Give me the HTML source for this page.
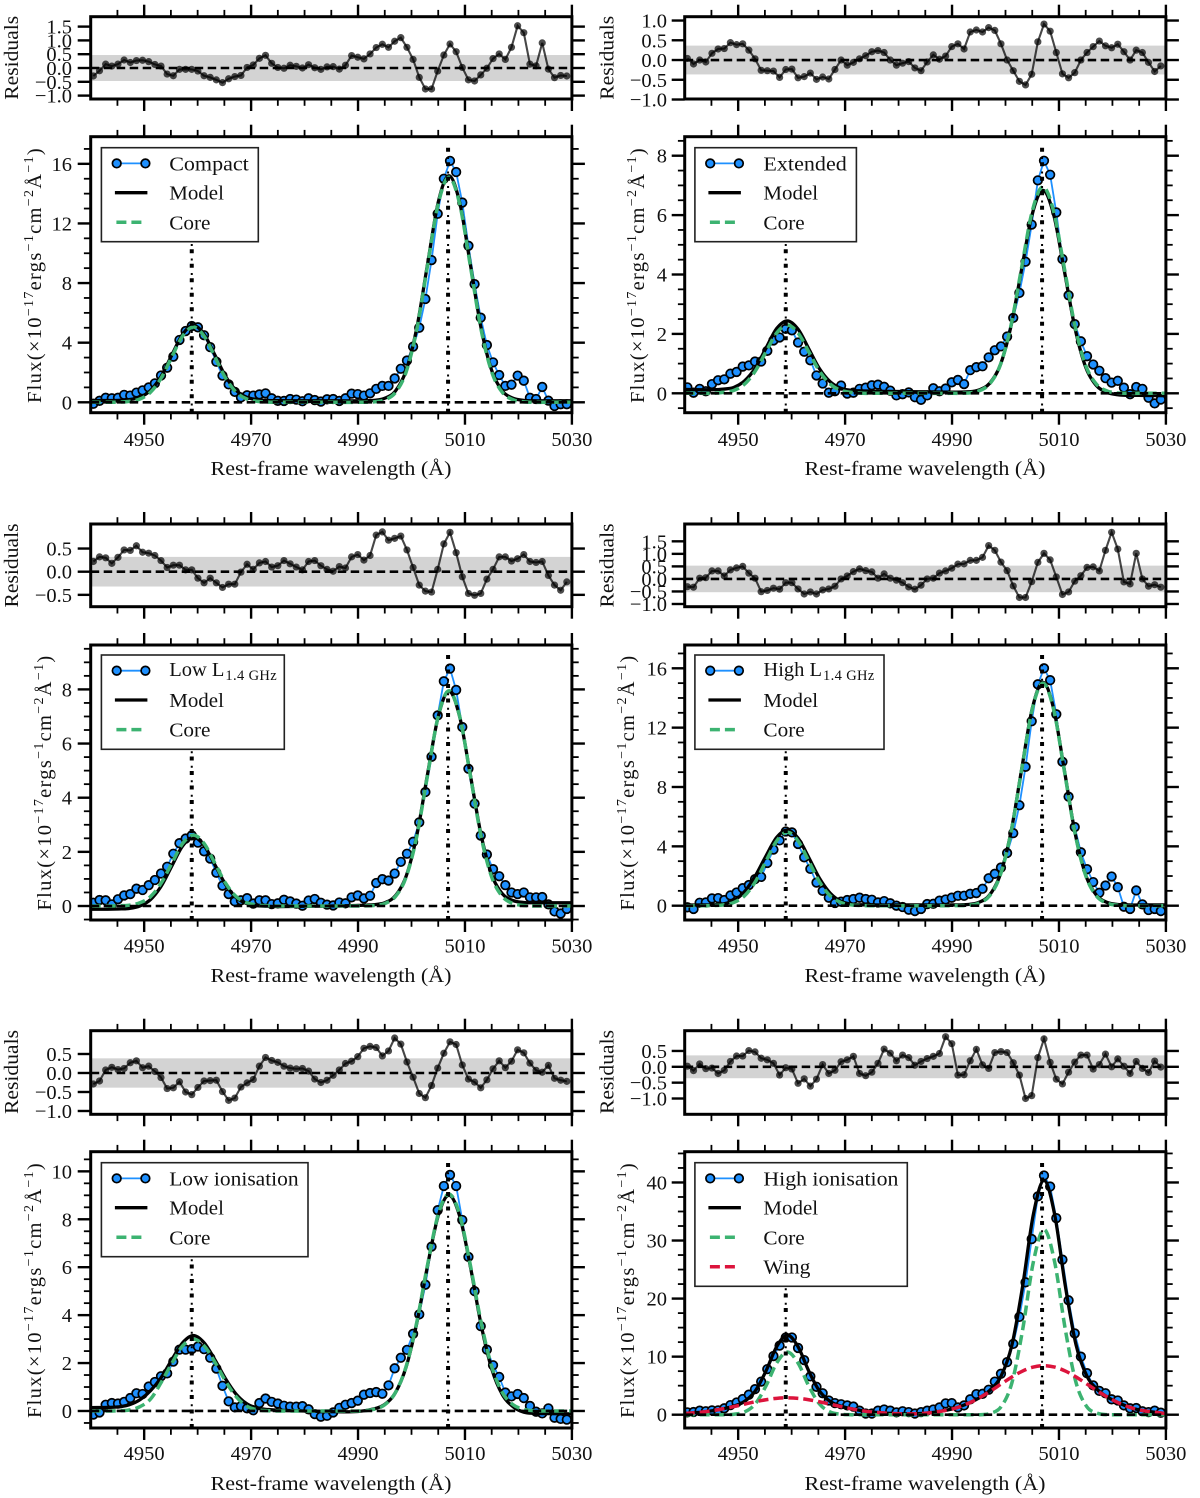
<!DOCTYPE html>
<html lang="en">
<head>
<meta charset="utf-8">
<title>[O III] line profiles with model fits and residuals</title>
<style>
html,body{margin:0;padding:0;background:#fff;}
svg{display:block;}
text{font-family:"Liberation Serif","DejaVu Serif",serif;font-size:20.5px;fill:#111;}
.sup{font-size:14px;}
.sub{font-size:14.5px;letter-spacing:.35px;}
.flux{letter-spacing:1.3px;}
.model{stroke:#000;stroke-width:3.3;fill:none;}
.core{stroke:#3cb371;stroke-width:3.5;stroke-dasharray:10 5;fill:none;}
.wing{stroke:#dc143c;stroke-width:3.5;stroke-dasharray:10 5;fill:none;}
.leg{fill:#fff;stroke:#222;stroke-width:1.6;}
.fl{stroke:#1e90ff;stroke-width:1.8;}
.dot{fill:#1e90ff;stroke:#000;stroke-width:1.7;}
</style>
</head>
<body>
<svg id="figure" xmlns="http://www.w3.org/2000/svg" width="1200" height="1498" viewBox="0 0 1200 1498">
<rect width="1200" height="1498" fill="#fff"/>

<!-- COMPACT -->
<g>
  <g id="compact-plots"></g>
  <text transform="translate(18,57.8) rotate(-90)" text-anchor="middle" textLength="84" lengthAdjust="spacingAndGlyphs">Residuals</text>
  <text class="flux" transform="translate(41,275) rotate(-90)" text-anchor="middle">Flux(×10<tspan class="sup" dy="-8">−17</tspan><tspan dy="8">ergs</tspan><tspan class="sup" dy="-8">−1</tspan><tspan dy="8">cm</tspan><tspan class="sup" dy="-8">−2</tspan><tspan dy="8">Å</tspan><tspan class="sup" dy="-8">−1</tspan><tspan dy="8">)</tspan></text>
  <text x="331" y="475" text-anchor="middle" textLength="241" lengthAdjust="spacingAndGlyphs">Rest-frame wavelength (Å)</text>
  <g transform="translate(101.4,147.7)">
    <rect class="leg" width="156.9" height="94"/>
    <line class="fl" x1="15.3" x2="44" y1="15.7" y2="15.7"/>
    <circle class="dot" cx="15.3" cy="15.7" r="4.3"/>
    <circle class="dot" cx="44" cy="15.7" r="4.3"/>
    <text x="67.8" y="22.8" textLength="79.6" lengthAdjust="spacingAndGlyphs">Compact</text>
    <line class="model" x1="13.5" x2="46" y1="45" y2="45"/>
    <text x="67.8" y="52" textLength="54.7" lengthAdjust="spacingAndGlyphs">Model</text>
    <line class="core" x1="15" x2="44" y1="74.6" y2="74.6"/>
    <text x="67.8" y="81.6" textLength="41.3" lengthAdjust="spacingAndGlyphs">Core</text>
  </g>
</g>

<!-- EXTENDED -->
<g>
  <g id="extended-plots"></g>
  <text transform="translate(613.5,57.8) rotate(-90)" text-anchor="middle" textLength="84" lengthAdjust="spacingAndGlyphs">Residuals</text>
  <text class="flux" transform="translate(644,275) rotate(-90)" text-anchor="middle">Flux(×10<tspan class="sup" dy="-8">−17</tspan><tspan dy="8">ergs</tspan><tspan class="sup" dy="-8">−1</tspan><tspan dy="8">cm</tspan><tspan class="sup" dy="-8">−2</tspan><tspan dy="8">Å</tspan><tspan class="sup" dy="-8">−1</tspan><tspan dy="8">)</tspan></text>
  <text x="925" y="475" text-anchor="middle" textLength="241" lengthAdjust="spacingAndGlyphs">Rest-frame wavelength (Å)</text>
  <g transform="translate(694.9,147.7)">
    <rect class="leg" width="161.5" height="94"/>
    <line class="fl" x1="15.3" x2="44" y1="15.7" y2="15.7"/>
    <circle class="dot" cx="15.3" cy="15.7" r="4.3"/>
    <circle class="dot" cx="44" cy="15.7" r="4.3"/>
    <text x="68.5" y="22.8" textLength="83.4" lengthAdjust="spacingAndGlyphs">Extended</text>
    <line class="model" x1="13.5" x2="46" y1="45" y2="45"/>
    <text x="68.5" y="52" textLength="54.7" lengthAdjust="spacingAndGlyphs">Model</text>
    <line class="core" x1="15" x2="44" y1="74.6" y2="74.6"/>
    <text x="68.5" y="81.6" textLength="41.3" lengthAdjust="spacingAndGlyphs">Core</text>
  </g>
</g>

<!-- LOW L -->
<g>
  <g id="lowL-plots"></g>
  <text transform="translate(18,565.5) rotate(-90)" text-anchor="middle" textLength="84" lengthAdjust="spacingAndGlyphs">Residuals</text>
  <text class="flux" transform="translate(51,782.5) rotate(-90)" text-anchor="middle">Flux(×10<tspan class="sup" dy="-8">−17</tspan><tspan dy="8">ergs</tspan><tspan class="sup" dy="-8">−1</tspan><tspan dy="8">cm</tspan><tspan class="sup" dy="-8">−2</tspan><tspan dy="8">Å</tspan><tspan class="sup" dy="-8">−1</tspan><tspan dy="8">)</tspan></text>
  <text x="331" y="982" text-anchor="middle" textLength="241" lengthAdjust="spacingAndGlyphs">Rest-frame wavelength (Å)</text>
  <g transform="translate(101.4,655)">
    <rect class="leg" width="182.9" height="94.3"/>
    <line class="fl" x1="15.3" x2="44" y1="15.7" y2="15.7"/>
    <circle class="dot" cx="15.3" cy="15.7" r="4.3"/>
    <circle class="dot" cx="44" cy="15.7" r="4.3"/>
    <text x="67.8" y="21"><tspan>Low L</tspan><tspan class="sub" dy="4" dx="1">1.4 GHz</tspan></text>
    <line class="model" x1="13.5" x2="46" y1="45" y2="45"/>
    <text x="67.8" y="52" textLength="54.7" lengthAdjust="spacingAndGlyphs">Model</text>
    <line class="core" x1="15" x2="44" y1="74.6" y2="74.6"/>
    <text x="67.8" y="81.6" textLength="41.3" lengthAdjust="spacingAndGlyphs">Core</text>
  </g>
</g>

<!-- HIGH L -->
<g>
  <g id="highL-plots"></g>
  <text transform="translate(613.5,565.5) rotate(-90)" text-anchor="middle" textLength="84" lengthAdjust="spacingAndGlyphs">Residuals</text>
  <text class="flux" transform="translate(634,782.5) rotate(-90)" text-anchor="middle">Flux(×10<tspan class="sup" dy="-8">−17</tspan><tspan dy="8">ergs</tspan><tspan class="sup" dy="-8">−1</tspan><tspan dy="8">cm</tspan><tspan class="sup" dy="-8">−2</tspan><tspan dy="8">Å</tspan><tspan class="sup" dy="-8">−1</tspan><tspan dy="8">)</tspan></text>
  <text x="925" y="982" text-anchor="middle" textLength="241" lengthAdjust="spacingAndGlyphs">Rest-frame wavelength (Å)</text>
  <g transform="translate(694.9,655)">
    <rect class="leg" width="189.1" height="94.3"/>
    <line class="fl" x1="15.3" x2="44" y1="15.7" y2="15.7"/>
    <circle class="dot" cx="15.3" cy="15.7" r="4.3"/>
    <circle class="dot" cx="44" cy="15.7" r="4.3"/>
    <text x="68.5" y="21"><tspan>High L</tspan><tspan class="sub" dy="4" dx="1">1.4 GHz</tspan></text>
    <line class="model" x1="13.5" x2="46" y1="45" y2="45"/>
    <text x="68.5" y="52" textLength="54.7" lengthAdjust="spacingAndGlyphs">Model</text>
    <line class="core" x1="15" x2="44" y1="74.6" y2="74.6"/>
    <text x="68.5" y="81.6" textLength="41.3" lengthAdjust="spacingAndGlyphs">Core</text>
  </g>
</g>

<!-- LOW IONISATION -->
<g>
  <g id="lowIon-plots"></g>
  <text transform="translate(18,1072) rotate(-90)" text-anchor="middle" textLength="84" lengthAdjust="spacingAndGlyphs">Residuals</text>
  <text class="flux" transform="translate(41,1290) rotate(-90)" text-anchor="middle">Flux(×10<tspan class="sup" dy="-8">−17</tspan><tspan dy="8">ergs</tspan><tspan class="sup" dy="-8">−1</tspan><tspan dy="8">cm</tspan><tspan class="sup" dy="-8">−2</tspan><tspan dy="8">Å</tspan><tspan class="sup" dy="-8">−1</tspan><tspan dy="8">)</tspan></text>
  <text x="331" y="1490" text-anchor="middle" textLength="241" lengthAdjust="spacingAndGlyphs">Rest-frame wavelength (Å)</text>
  <g transform="translate(101.4,1162.7)">
    <rect class="leg" width="206.6" height="94"/>
    <line class="fl" x1="15.3" x2="44" y1="15.7" y2="15.7"/>
    <circle class="dot" cx="15.3" cy="15.7" r="4.3"/>
    <circle class="dot" cx="44" cy="15.7" r="4.3"/>
    <text x="67.8" y="22.8" textLength="129.4" lengthAdjust="spacingAndGlyphs">Low ionisation</text>
    <line class="model" x1="13.5" x2="46" y1="45" y2="45"/>
    <text x="67.8" y="52" textLength="54.7" lengthAdjust="spacingAndGlyphs">Model</text>
    <line class="core" x1="15" x2="44" y1="74.6" y2="74.6"/>
    <text x="67.8" y="81.6" textLength="41.3" lengthAdjust="spacingAndGlyphs">Core</text>
  </g>
</g>

<!-- HIGH IONISATION -->
<g>
  <g id="highIon-plots"></g>
  <text transform="translate(613.5,1072) rotate(-90)" text-anchor="middle" textLength="84" lengthAdjust="spacingAndGlyphs">Residuals</text>
  <text class="flux" transform="translate(634,1290) rotate(-90)" text-anchor="middle">Flux(×10<tspan class="sup" dy="-8">−17</tspan><tspan dy="8">ergs</tspan><tspan class="sup" dy="-8">−1</tspan><tspan dy="8">cm</tspan><tspan class="sup" dy="-8">−2</tspan><tspan dy="8">Å</tspan><tspan class="sup" dy="-8">−1</tspan><tspan dy="8">)</tspan></text>
  <text x="925" y="1490" text-anchor="middle" textLength="241" lengthAdjust="spacingAndGlyphs">Rest-frame wavelength (Å)</text>
  <g transform="translate(694.9,1162.7)">
    <rect class="leg" width="212.4" height="123.6"/>
    <line class="fl" x1="15.3" x2="44" y1="15.7" y2="15.7"/>
    <circle class="dot" cx="15.3" cy="15.7" r="4.3"/>
    <circle class="dot" cx="44" cy="15.7" r="4.3"/>
    <text x="68.5" y="22.8" textLength="135" lengthAdjust="spacingAndGlyphs">High ionisation</text>
    <line class="model" x1="13.5" x2="46" y1="45" y2="45"/>
    <text x="68.5" y="52" textLength="54.7" lengthAdjust="spacingAndGlyphs">Model</text>
    <line class="core" x1="15" x2="44" y1="74.6" y2="74.6"/>
    <text x="68.5" y="81.6" textLength="41.3" lengthAdjust="spacingAndGlyphs">Core</text>
    <line class="wing" x1="15" x2="44" y1="104" y2="104"/>
    <text x="68.5" y="111" textLength="47" lengthAdjust="spacingAndGlyphs">Wing</text>
  </g>
</g>
</svg>

<script>
// ---------- shared wavelength axes (Angstrom) ----------
const wave = [4940.50,4941.65,4942.80,4943.95,4945.10,4946.25,4947.40,4948.55,4949.70,4950.85,
4952.00,4953.15,4954.30,4955.45,4956.60,4957.75,4958.90,4960.05,4961.20,4962.35,
4963.50,4964.65,4965.80,4966.95,4968.10,4969.25,4970.40,4971.55,4972.70,4973.85,
4975.00,4976.15,4977.30,4978.45,4979.60,4980.75,4981.90,4983.05,4984.20,4985.35,
4986.50,4987.65,4988.80,4989.95,4991.10,4992.25,4993.40,4994.55,4995.70,4996.85,
4998.00,4999.15,5000.30,5001.45,5002.60,5003.75,5004.90,5006.05,5007.20,5008.35,
5009.50,5010.65,5011.80,5012.95,5014.10,5015.25,5016.40,5017.55,5018.70,5019.85,
5021.00,5022.15,5023.30,5024.45,5025.60,5026.75,5027.90,5029.05];
const modelWave = [4940,4943.2,4945.2,4947.2,4949.2,4951.2,4953.2,4955.2,4957.2,4959.2,4961.2,4963.2,4965.2,4967.2,4969.2,4971.2,4973.2,4975.2,4980,4985,4990,4993,4995,4997,4999,5001,5003,5005,5007,5009,5011,5013,5015,5017,5019,5021,5023,5025,5030];
const highIonModelWave = [4940,4943.2,4945.2,4947.2,4949.2,4951.2,4953.2,4955.2,4957.2,4959.2,4961.2,4963.2,4965.2,4967.2,4969.2,4971.2,4973.2,4975.2,4980.2,4985.2,4990.2,4993.2,4995.2,4997.2,4999.2,5001.2,5003.2,5005.2,5007.2,5009.2,5011.2,5013.2,5015.2,5017.2,5019.2,5021.2,5023.2,5025.2,5030];
const lineCentres = [4958.9,5006.84];
const xMajor = [4950,4970,4990,5010,5030];
const xMinor = [4945,4955,4960,4965,4975,4980,4985,4995,5000,5005,5015,5020,5025];

// ---------- Compact ----------
const compactRes = [-.29,-.1,.14,.07,.14,.29,.2,.27,.28,.23,.13,.07,-.22,-.28,-.05,-.05,-.05,-.11,-.28,-.34,-.43,-.53,-.39,-.31,-.27,.02,.11,.35,.46,.17,.02,-.01,.1,.06,0,.12,.01,-.05,.04,.05,-.04,.1,.45,.39,.33,.51,.74,.86,.75,.97,1.1,.75,.31,-.34,-.76,-.76,-.11,.47,.87,.59,.02,-.43,-.47,-.25,-.01,.34,.51,.31,.75,1.53,1.28,.14,.08,.91,-.04,-.35,-.27,-.29];
const compactFlux = [-.1,.1,.3,.27,.3,.5,.45,.65,.8,1,1.27,1.8,2.32,3.06,4.18,4.78,5.12,5.03,4.5,3.7,2.72,1.79,1.2,.7,.33,.47,.45,.53,.6,.27,.1,.09,.22,.18,.07,.27,.15,.05,.2,.22,.09,.27,.58,.55,.45,.6,.9,1.1,1.1,1.6,2.25,2.8,3.73,5,6.93,9.54,12.65,15,16.2,15.45,13.4,10.5,7.93,5.68,3.84,2.68,1.83,1.1,1.18,1.79,1.45,.3,.22,1.03,.11,-.25,-.13,-.13];
const compactModel = [.12,.12,.13,.18,.34,.8,1.76,3.19,4.57,5.17,4.57,3.19,1.76,.8,.34,.18,.12,.11,.1,.1,.1,.13,.27,.76,2.14,5.01,9.27,13.42,15.2,13.42,9.27,5.01,2.14,.76,.27,.13,.1,.1,.1];
const compactCore = [0,0,.01,.06,.22,.68,1.64,3.07,4.45,5.05,4.45,3.07,1.64,.68,.22,.06,.01,0,0,0,0,.03,.17,.66,2.04,4.91,9.17,13.32,15.1,13.32,9.17,4.91,2.04,.66,.17,.03,0,0,0];
const compactResTicks = [-1,-.5,0,.5,1,1.5];
const compactFluxTicks = [0,4,8,12,16];

// ---------- Extended ----------
const extendedRes = [.04,-.1,0,-.05,.17,.28,.29,.44,.39,.41,.25,.03,-.26,-.27,-.28,-.44,-.24,-.23,-.45,-.42,-.33,-.49,-.43,-.48,-.24,0,-.13,-.06,.03,.11,.21,.24,.19,0,-.13,-.08,-.04,-.2,-.27,-.05,.13,.02,.1,.34,.41,.28,.71,.76,.71,.82,.75,.41,0,-.27,-.54,-.63,-.36,.46,.91,.73,.19,-.35,-.45,-.32,0,.19,.34,.48,.36,.31,.4,.21,0,.25,.19,-.06,-.29,-.15];
const extendedFlux = [.2,.02,.15,.07,.31,.44,.47,.66,.72,.9,.94,1.07,1.07,1.43,1.78,1.88,2.17,2.12,1.71,1.4,1.11,.6,.33,.02,.07,.26,-.01,.02,.15,.19,.27,.29,.22,.09,-.07,-.03,.03,-.13,-.22,-.07,.17,.07,.16,.37,.45,.31,.78,.88,.91,1.21,1.45,1.58,1.91,2.54,3.38,4.43,5.68,7.17,7.83,7.36,6.09,4.52,3.3,2.33,1.75,1.25,.97,.76,.51,.36,.42,.19,-.03,.21,.15,-.15,-.34,-.21];
const extendedModel = [.13,.12,.12,.14,.2,.42,.85,1.52,2.18,2.44,2.16,1.5,.83,.39,.17,.1,.08,.07,.06,.05,.04,.05,.11,.33,.94,2.24,4.16,6.03,6.83,6.02,4.13,2.19,.88,.26,.03,-.05,-.07,-.07,-.08];
const extendedCore = [0,0,0,.03,.1,.31,.75,1.4,2.03,2.3,2.03,1.4,.75,.31,.1,.03,0,0,0,0,0,.01,.08,.31,.94,2.26,4.22,6.13,6.95,6.13,4.22,2.26,.94,.31,.08,.01,0,0,0];
const extendedResTicks = [-1,-.5,0,.5,1];
const extendedFluxTicks = [0,2,4,6,8];

// ---------- Low L 1.4 GHz ----------
const lowLRes = [.22,.32,.3,.18,.31,.47,.46,.56,.42,.4,.35,.24,.09,.14,.14,.04,.04,-.14,-.24,-.14,-.24,-.34,-.27,-.27,-.01,.16,.05,.19,.22,.1,.13,.24,.17,.1,.04,.22,.24,.13,.05,.01,.11,.08,.32,.37,.25,.35,.79,.86,.68,.72,.77,.47,.09,-.29,-.42,-.44,.05,.6,.85,.41,-.11,-.47,-.51,-.47,-.16,.05,.32,.32,.23,.28,.37,.22,.2,.22,-.08,-.29,-.4,-.22];
const lowLFlux = [.12,.22,.21,.06,.25,.39,.44,.64,.59,.77,.96,1.2,1.45,1.93,2.32,2.49,2.61,2.34,2.02,1.75,1.23,.75,.44,.17,.21,.29,.09,.21,.21,.07,.1,.23,.17,.09,.01,.2,.26,.12,.05,.02,.13,.1,.32,.39,.28,.38,.85,.99,.94,1.2,1.63,1.93,2.37,3.09,4.21,5.51,7.04,8.3,8.77,7.98,6.61,5.07,3.78,2.6,1.9,1.36,1.1,.77,.5,.44,.5,.32,.32,.33,.06,-.2,-.28,-.11];
const lowLModel = [-.12,-.12,-.11,-.09,0,.24,.74,1.49,2.22,2.54,2.24,1.53,.8,.31,.09,.01,-.01,-.02,-.01,0,.02,.05,.12,.38,1.1,2.62,4.87,7,7.93,7,4.85,2.64,1.15,.45,.2,.13,.12,.12,.12];
const lowLCore = [0,0,.01,.03,.12,.35,.85,1.59,2.31,2.62,2.31,1.59,.85,.35,.12,.03,.01,0,0,0,0,.02,.09,.35,1.07,2.58,4.83,7.01,7.95,7.01,4.83,2.58,1.07,.35,.09,.02,0,0,0];
const lowLResTicks = [-.5,0,.5];
const lowLFluxTicks = [0,2,4,6,8];

// ---------- High L 1.4 GHz ----------
const highLRes = [-.31,-.33,.03,.05,.32,.32,.12,.36,.44,.5,.23,.03,-.51,-.46,-.37,-.41,-.15,-.15,-.4,-.6,-.52,-.6,-.44,-.4,-.29,0,.12,.29,.4,.33,.28,.03,.2,.03,-.05,-.15,-.32,-.41,-.25,0,.03,.23,.32,.43,.59,.6,.74,.74,.86,1.33,1.14,.67,.33,-.28,-.74,-.74,-.11,.66,1.02,.76,.08,-.62,-.52,-.09,.13,.46,.48,.32,1.14,1.86,1.19,-.12,-.2,1.02,0,-.29,-.23,-.33];
const highLFlux = [-.11,-.22,.2,.22,.49,.51,.38,.69,.89,1.18,1.39,1.79,1.94,2.88,3.78,4.4,5,4.94,4.16,3.26,2.48,1.56,1,.54,.18,.27,.38,.45,.54,.45,.4,.22,.31,.16,0,-.09,-.27,-.36,-.22,.11,.13,.34,.42,.54,.67,.67,.8,.85,1.14,1.85,2.15,2.57,3.55,4.89,6.77,9.36,12.43,14.92,16,15.2,12.9,9.7,7.35,5.3,3.6,2.46,1.59,.87,1.36,1.97,1.25,-.07,-.22,1.03,.09,-.29,-.22,-.36];
const highLModel = [.05,.05,.06,.12,.35,.95,2,3.35,4.6,5.1,4.55,3.25,1.85,.85,.3,.1,.06,.05,.05,.05,.05,.08,.22,.71,2.08,4.92,9.15,13.28,15.05,13.28,9.15,4.92,2.07,.71,.22,.08,.05,.05,.05];
const highLCore = [0,0,.01,.05,.22,.67,1.61,3,4.37,4.95,4.37,3,1.61,.67,.22,.05,.01,0,0,0,0,.03,.17,.66,2.03,4.88,9.1,13.23,15,13.23,9.1,4.88,2.03,.66,.17,.03,0,0,0];
const highLResTicks = [-1,-.5,0,.5,1,1.5];
const highLFluxTicks = [0,4,8,12,16];

// ---------- Low ionisation ----------
const lowIonRes = [-.29,-.21,.08,.15,.09,.12,.27,.32,.14,.18,.04,-.12,-.41,-.39,-.23,-.5,-.57,-.38,-.21,-.2,-.19,-.49,-.72,-.66,-.37,-.26,-.17,.18,.41,.33,.28,.18,.13,.11,.12,.05,-.16,-.25,-.19,-.06,.08,.25,.31,.43,.65,.7,.67,.45,.58,.92,.76,.29,-.11,-.54,-.65,-.33,.13,.52,.82,.75,.21,-.16,-.24,-.39,-.18,.11,.32,.14,.31,.61,.53,.26,.07,.02,.2,-.14,-.19,-.22];
const lowIonFlux = [-.15,-.06,.26,.33,.31,.38,.54,.74,.71,1.02,1.21,1.45,1.57,2.06,2.56,2.56,2.58,2.69,2.58,2.22,1.77,1.05,.4,.15,.2,.11,.03,.33,.52,.38,.31,.22,.18,.18,.2,.07,-.13,-.24,-.2,-.06,.13,.26,.33,.43,.68,.75,.79,.72,1.07,1.78,2.22,2.55,3.22,4.03,5.27,6.86,8.38,9.39,9.85,9.39,7.97,6.43,5,3.54,2.56,1.91,1.42,.77,.61,.71,.54,.21,-.03,-.1,.11,-.28,-.33,-.36];
const lowIonModel = [.14,.15,.17,.26,.47,.85,1.4,2.15,2.85,3.15,2.85,2.15,1.35,.7,.3,.12,.06,.03,0,-.03,-.02,.09,.28,.77,1.84,3.68,6.06,8.15,9,8.14,6.04,3.62,1.76,.68,.18,-.05,-.1,-.11,-.12];
const lowIonCore = [0,0,.01,.04,.18,.5,1.2,2,2.72,3,2.72,2.05,1.25,.6,.2,.05,.01,0,0,0,0,.07,.26,.77,1.86,3.72,6.1,8.2,9.05,8.2,6.1,3.72,1.86,.77,.26,.07,.01,0,0];
const lowIonResTicks = [-1,-.5,0,.5];
const lowIonFluxTicks = [0,2,4,6,8,10];

// ---------- High ionisation ----------
const highIonRes = [.02,-.12,.09,-.06,-.04,-.21,-.11,.17,.34,.34,.51,.47,.27,.22,.11,-.26,-.03,-.07,-.52,-.38,-.61,-.39,.07,-.21,-.11,.16,.22,.33,-.21,-.28,-.17,.11,.56,.43,.19,.37,.29,.05,.17,.26,.33,.42,.95,.73,-.26,-.25,.19,.55,.06,-.05,.45,.48,.45,.13,-.26,-1,-.91,.29,.88,.14,-.39,-.54,-.17,.15,.37,.37,-.07,.07,.4,0,.25,.02,-.21,.17,-.05,-.18,.18,-.01];
const highIonFlux = [.4,.46,.7,.6,.75,.75,1.1,1.65,2.1,2.7,3.45,4.4,5.7,7.85,10.1,11.9,13.3,13.3,11.5,9.4,6.6,4.8,3.7,2.45,2,1.8,1.6,1.4,.7,.2,.2,.7,.9,.7,.4,.6,.45,.2,.45,.7,.9,1.25,1.95,2,1.25,1.6,2.65,3.55,3.6,4.3,5.7,7.05,9.05,12.2,16.85,22.8,30.25,37.6,41.2,39.3,33.85,26.7,19.7,14,10,7.15,5.05,4.1,3.7,2.65,2.45,1.6,1.1,1.15,.6,.45,.7,.35];
const highIonModel = [.21,.45,.69,1.02,1.48,2.3,4.09,7.53,11.72,13.7,11.72,7.53,4.09,2.3,1.48,1.02,.69,.45,.16,.27,1.02,2.02,2.96,4.31,6.7,12,22.12,34.45,40.35,34.45,22.12,12,6.7,4.31,2.96,2.02,1.3,.79,.18];
const highIonCore = [0,0,0,0,.08,.48,1.86,4.95,8.9,10.8,8.9,4.95,1.86,.48,.08,0,0,0,0,0,0,0,0,.24,1.4,5.5,14.6,26.25,31.9,26.25,14.6,5.5,1.4,.24,0,0,0,0,0];
const highIonWing = [.21,.45,.69,1.02,1.4,1.82,2.23,2.58,2.82,2.9,2.82,2.58,2.23,1.82,1.4,1.02,.69,.45,.16,.27,1.02,2.02,2.96,4.07,5.3,6.5,7.52,8.2,8.45,8.2,7.52,6.5,5.3,4.07,2.96,2.02,1.3,.79,.18];
const highIonResTicks = [-1,-.5,0,.5];
const highIonFluxTicks = [0,10,20,30,40];

// ---------- panel wiring (axis limits and frames) ----------
const panels = [
 {key:'compact',name:'compact',left:90.7,resBox:[16.7,99],mainBox:[136.7,412.7],tickDy:33.5,resLim:[-1.123,1.859],mainLim:[-.698,17.82],band:.47,minorStep:1,res:compactRes,flux:compactFlux,mWave:modelWave,model:compactModel,core:compactCore,wing:null,resTicks:compactResTicks,fluxTicks:compactFluxTicks,labelRight:72},
 {key:'extended',name:'extended',left:684.7,resBox:[16.7,99],mainBox:[136.7,412.7],tickDy:33.5,resLim:[-.987,1.097],mainLim:[-.653,8.64],band:.365,minorStep:.5,res:extendedRes,flux:extendedFlux,mWave:modelWave,model:extendedModel,core:extendedCore,wing:null,resTicks:extendedResTicks,fluxTicks:extendedFluxTicks,labelRight:667},
 {key:'lowL',name:'low-luminosity',left:90.7,resBox:[524,606.7],mainBox:[645,920],tickDy:32.5,resLim:[-.756,1.03],mainLim:[-.517,9.64],band:.32,minorStep:.5,res:lowLRes,flux:lowLFlux,mWave:modelWave,model:lowLModel,core:lowLCore,wing:null,resTicks:lowLResTicks,fluxTicks:lowLFluxTicks,labelRight:72},
 {key:'highL',name:'high-luminosity',left:684.7,resBox:[524,606.7],mainBox:[645,920],tickDy:32.5,resLim:[-1.108,2.191],mainLim:[-.964,17.57],band:.53,minorStep:1,res:highLRes,flux:highLFlux,mWave:modelWave,model:highLModel,core:highLCore,wing:null,resTicks:highLResTicks,fluxTicks:highLFluxTicks,labelRight:667},
 {key:'lowIon',name:'low-ionisation',left:90.7,resBox:[1030.7,1114.3],mainBox:[1151.7,1428],tickDy:32,resLim:[-1.087,1.113],mainLim:[-.71,10.82],band:.386,minorStep:.5,res:lowIonRes,flux:lowIonFlux,mWave:modelWave,model:lowIonModel,core:lowIonCore,wing:null,resTicks:lowIonResTicks,fluxTicks:lowIonFluxTicks,labelRight:72},
 {key:'highIon',name:'high-ionisation',left:684.7,resBox:[1030.7,1114.3],mainBox:[1151.7,1428],tickDy:32,resLim:[-1.498,1.139],mainLim:[-2.29,45.3],band:.36,minorStep:2.5,res:highIonRes,flux:highIonFlux,mWave:highIonModelWave,model:highIonModel,core:highIonCore,wing:highIonWing,resTicks:highIonResTicks,fluxTicks:highIonFluxTicks,labelRight:667}
];

const SVGNS = 'http://www.w3.org/2000/svg';
const PANEL_W = 481.2;
const XMIN = 4940, XMAX = 5030;

function make(tag, attrs, parent){
  const node = document.createElementNS(SVGNS, tag);
  for (const k in attrs) node.setAttribute(k, attrs[k]);
  parent.appendChild(node);
  return node;
}
function xScale(p, v){ return p.left + (v - XMIN) / (XMAX - XMIN) * PANEL_W; }
function yScale(box, lim, v){ return box[1] - (v - lim[0]) / (lim[1] - lim[0]) * (box[1] - box[0]); }

function smoothPath(xs, ys){
  const n = xs.length;
  const m = [];
  for (let i = 0; i < n; i++){
    const a = Math.max(0, i - 1), b = Math.min(n - 1, i + 1);
    m.push((ys[b] - ys[a]) / (xs[b] - xs[a]));
  }
  let d = 'M' + xs[0].toFixed(2) + ' ' + ys[0].toFixed(2);
  for (let i = 0; i < n - 1; i++){
    const h = (xs[i + 1] - xs[i]) / 3;
    d += 'C' + (xs[i] + h).toFixed(2) + ' ' + (ys[i] + m[i] * h).toFixed(2) + ' ' +
         (xs[i + 1] - h).toFixed(2) + ' ' + (ys[i + 1] - m[i + 1] * h).toFixed(2) + ' ' +
         xs[i + 1].toFixed(2) + ' ' + ys[i + 1].toFixed(2);
  }
  return d;
}
function polyPoints(p, xsData, ysData, box, lim){
  return ysData.map((v, i) => xScale(p, xsData[i]).toFixed(2) + ',' + yScale(box, lim, v).toFixed(2)).join(' ');
}
function fmtRes(v){ return (v < 0 ? '\u2212' : '') + Math.abs(v).toFixed(1); }

function drawXTicks(p, box, g){
  const sets = [[xMajor, 12, 2.4, 'x-major-tick'], [xMinor, 6.8, 1.8, 'x-minor-tick']];
  sets.forEach(function(s){
    s[0].forEach(function(v){
      const x = xScale(p, v);
      const top = make('line', {x1:x, x2:x, y1:box[0], y2:box[0] - s[1], stroke:'#000', 'stroke-width':s[2]}, g);
      
      
      const bot = make('line', {x1:x, x2:x, y1:box[1], y2:box[1] + s[1], stroke:'#000', 'stroke-width':s[2]}, g);
      
      
    });
  });
}
function drawYTick(p, y, len, w, g, nm){
  const l = make('line', {x1:p.left, x2:p.left - len, y1:y, y2:y, stroke:'#000', 'stroke-width':w}, g);
  
  
  const r = make('line', {x1:p.left + PANEL_W, x2:p.left + PANEL_W + len, y1:y, y2:y, stroke:'#000', 'stroke-width':w}, g);
  
  
}
function makeClip(id, p, box, g){
  const c = make('clipPath', {id:id}, g);
  make('rect', {x:p.left, y:box[0], width:PANEL_W, height:box[1] - box[0]}, c);
}
function drawFrame(p, box, g, nm){
  const f = make('rect', {x:p.left, y:box[0], width:PANEL_W, height:box[1] - box[0], fill:'none', stroke:'#000', 'stroke-width':3}, g);
  
  
}

function drawResidual(p, root){
  const box = p.resBox, lim = p.resLim;
  const g = make('g', {}, root);
  
  
  const cid = 'clip-res-' + p.key;
  makeClip(cid, p, box, g);
  const inner = make('g', {'clip-path':'url(#' + cid + ')'}, g);
  
  
  const yHi = yScale(box, lim, p.band), yLo = yScale(box, lim, -p.band);
  const band = make('rect', {x:p.left, y:yHi, width:PANEL_W, height:yLo - yHi, fill:'#d3d3d3'}, inner);
  
  
  const y0 = yScale(box, lim, 0);
  const zero = make('line', {x1:p.left, x2:p.left + PANEL_W, y1:y0, y2:y0, stroke:'#000', 'stroke-width':2.6, 'stroke-dasharray':'8.5 4.5'}, inner);
  
  
  const line = make('polyline', {points:polyPoints(p, wave, p.res, box, lim), fill:'none', stroke:'rgba(0,0,0,.72)', 'stroke-width':2.1}, inner);
  
  
  p.res.forEach(function(v, i){
    const c = make('circle', {cx:xScale(p, wave[i]), cy:yScale(box, lim, v), r:3.6, fill:'rgba(0,0,0,.7)'}, inner);
    
    
  });
  drawFrame(p, box, g, 'residual-frame');
  drawXTicks(p, box, g);
  p.resTicks.forEach(function(v){
    const y = yScale(box, lim, v);
    drawYTick(p, y, 13, 2.4, g, 'residual-y-tick');
    const t = make('text', {x:p.labelRight, y:y + 7, 'text-anchor':'end'}, g);
    
    
    t.textContent = fmtRes(v);
  });
}

function drawMain(p, root){
  const box = p.mainBox, lim = p.mainLim;
  const g = make('g', {}, root);
  
  
  const cid = 'clip-main-' + p.key;
  makeClip(cid, p, box, g);
  const inner = make('g', {'clip-path':'url(#' + cid + ')'}, g);
  
  

  const line = make('polyline', {points:polyPoints(p, wave, p.flux, box, lim), fill:'none', stroke:'#1e90ff', 'stroke-width':1.8}, inner);
  
  
  p.flux.forEach(function(v, i){
    const c = make('circle', {cx:xScale(p, wave[i]), cy:yScale(box, lim, v), r:4.3, fill:'#1e90ff', stroke:'#000', 'stroke-width':1.7}, inner);
    
    
  });
  const mx = p.mWave.map(function(w){ return xScale(p, w); });
  const mPath = make('path', {d:smoothPath(mx, p.model.map(function(v){ return yScale(box, lim, v); })), class:'model'}, inner);
  
  
  const cPath = make('path', {d:smoothPath(mx, p.core.map(function(v){ return yScale(box, lim, v); })), class:'core'}, inner);
  
  
  if (p.wing){
    const wPath = make('path', {d:smoothPath(mx, p.wing.map(function(v){ return yScale(box, lim, v); })), class:'wing'}, inner);
    
    
  }
  const y0 = yScale(box, lim, 0);
  const zero = make('line', {x1:p.left, x2:p.left + PANEL_W, y1:y0, y2:y0, stroke:'#000', 'stroke-width':2.6, 'stroke-dasharray':'8.5 4.5'}, inner);
  
  
  lineCentres.forEach(function(w){
    const x = xScale(p, w);
    const thick = make('line', {x1:x, x2:x, y1:box[1], y2:box[0] + 8, stroke:'#000', 'stroke-width':4, 'stroke-dasharray':'4 10.5'}, inner);
    
    
    const thin = make('line', {x1:x, x2:x, y1:box[1] - 7.2, y2:box[0] + 8, stroke:'#000', 'stroke-width':2, 'stroke-dasharray':'2 12.5'}, inner);
    
    
  });

  drawFrame(p, box, g, 'flux-frame');
  drawXTicks(p, box, g);
  xMajor.forEach(function(v){
    const t = make('text', {x:xScale(p, v), y:box[1] + p.tickDy, 'text-anchor':'middle'}, g);
    
    
    t.textContent = String(v);
  });
  for (let v = lim[0] - (lim[0] % p.minorStep); v <= lim[1]; v += p.minorStep){
    if (v < lim[0] || p.fluxTicks.indexOf(v) >= 0) continue;
    drawYTick(p, yScale(box, lim, v), 6.8, 1.8, g, 'flux-y-minor-tick');
  }
  p.fluxTicks.forEach(function(v){
    const y = yScale(box, lim, v);
    drawYTick(p, y, 13, 2.4, g, 'flux-y-tick');
    const t = make('text', {x:p.labelRight, y:y + 7, 'text-anchor':'end'}, g);
    
    
    t.textContent = String(v);
  });
}

panels.forEach(function(p){
  const root = document.getElementById(p.key + '-plots');
  drawResidual(p, root);
  drawMain(p, root);
});
</script>
</body>
</html>
